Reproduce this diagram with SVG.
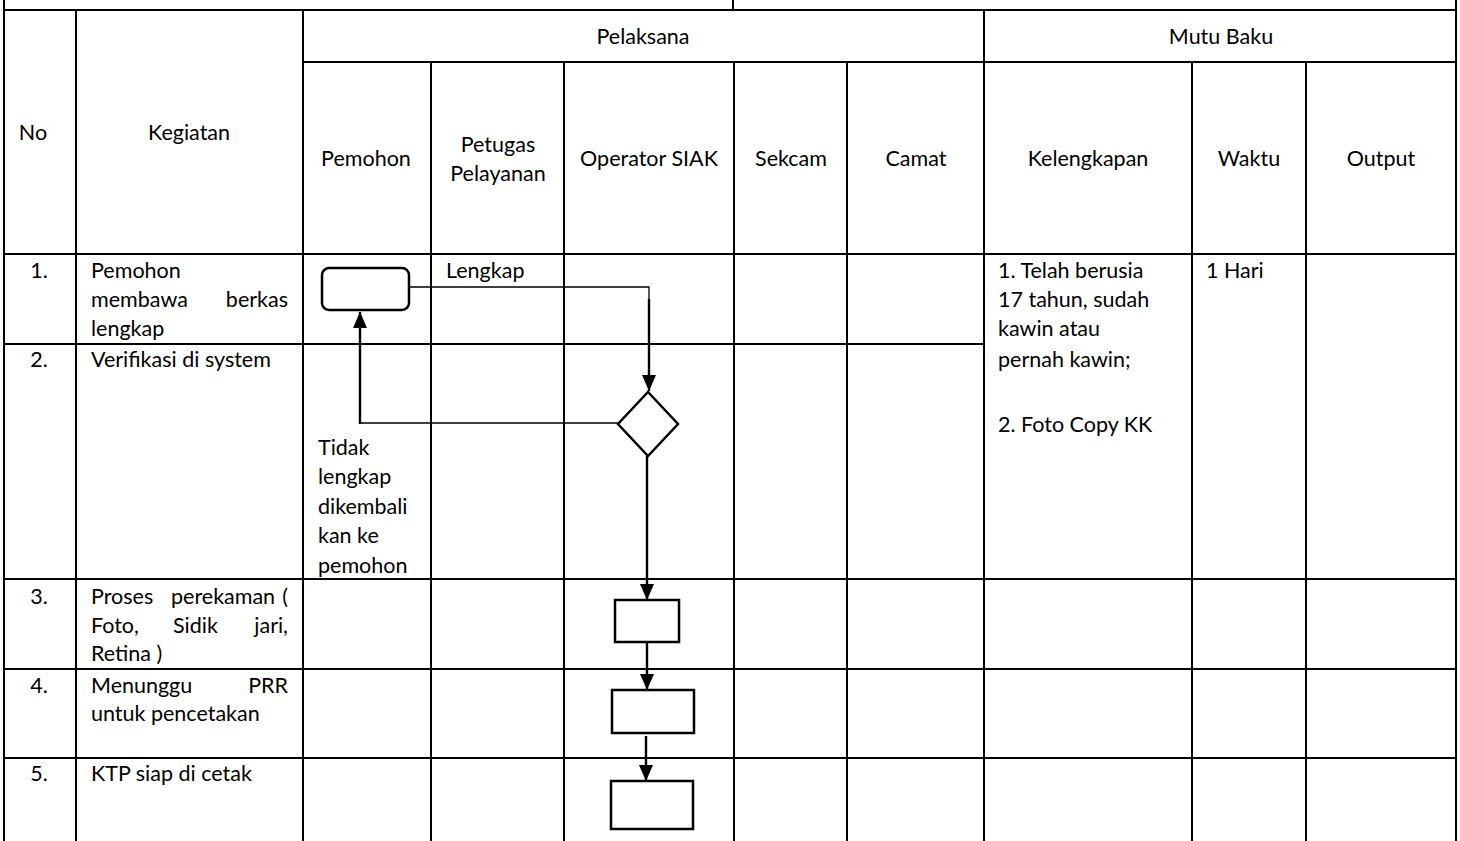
<svg xmlns="http://www.w3.org/2000/svg" width="1460" height="841" viewBox="0 0 1460 841">
<style>
.t{font-family:Lato,"Open Sans","Liberation Sans",sans-serif;font-size:21.5px;fill:#000}
.c{text-anchor:middle}
.e{text-anchor:end}
.g{stroke:#000;stroke-width:2;fill:none}
.s{stroke:#000;stroke-width:2.5;fill:#fff}
.thin{stroke:#000;stroke-width:1.3;fill:none}
.thick{stroke:#000;stroke-width:2.4;fill:none}
</style>
<defs>
<marker id="a" viewBox="0 0 16 14" refX="16" refY="7" markerWidth="16" markerHeight="14" markerUnits="userSpaceOnUse" orient="auto"><path d="M0,0L16,7L0,14z" fill="#000"/></marker>
</defs>
<rect width="1460" height="841" fill="#fff"/>
<g id="grid" class="g">
<line x1="4" y1="10" x2="1456" y2="10"/>
<line x1="4" y1="0" x2="4" y2="841"/>
<line x1="733" y1="0" x2="733" y2="10"/>
<line x1="1456" y1="0" x2="1456" y2="841"/>
<line x1="303" y1="62" x2="1456" y2="62"/>
<line x1="4" y1="254" x2="1456" y2="254"/>
<line x1="4" y1="344" x2="984" y2="344"/>
<line x1="4" y1="579" x2="1456" y2="579"/>
<line x1="4" y1="669" x2="1456" y2="669"/>
<line x1="4" y1="758" x2="1456" y2="758"/>
<line x1="76" y1="10" x2="76" y2="841"/>
<line x1="303" y1="10" x2="303" y2="841"/>
<line x1="984" y1="10" x2="984" y2="841"/>
<line x1="431" y1="62" x2="431" y2="841"/>
<line x1="564" y1="62" x2="564" y2="841"/>
<line x1="734" y1="62" x2="734" y2="841"/>
<line x1="847" y1="62" x2="847" y2="841"/>
<line x1="1192" y1="62" x2="1192" y2="841"/>
<line x1="1306" y1="62" x2="1306" y2="841"/>
</g>
<g id="headers" class="t">
<text x="33" y="140" class="c">No</text>
<text x="189" y="140" class="c">Kegiatan</text>
<text x="643" y="44" class="c">Pelaksana</text>
<text x="1221" y="44" class="c">Mutu Baku</text>
<text x="366" y="166" class="c">Pemohon</text>
<text x="498" y="152" class="c">Petugas</text>
<text x="498" y="181" class="c">Pelayanan</text>
<text x="649" y="166" class="c">Operator SIAK</text>
<text x="791" y="166" class="c">Sekcam</text>
<text x="916" y="166" class="c">Camat</text>
<text x="1088" y="166" class="c">Kelengkapan</text>
<text x="1249" y="166" class="c">Waktu</text>
<text x="1381" y="166" class="c">Output</text>
</g>
<g id="rows" class="t">
<text x="39" y="278" class="c">1.</text>
<text x="91" y="278">Pemohon</text>
<text x="91" y="307">membawa</text>
<text x="288" y="307" class="e">berkas</text>
<text x="91" y="336">lengkap</text>
<text x="39" y="367" class="c">2.</text>
<text x="91" y="367">Verifikasi di system</text>
<text x="39" y="604" class="c">3.</text>
<text x="91" y="604">Proses</text>
<text x="171" y="604">perekaman</text>
<text x="288" y="604" class="e">(</text>
<text x="91" y="633">Foto,</text>
<text x="173" y="633">Sidik</text>
<text x="288" y="633" class="e">jari,</text>
<text x="91" y="661">Retina )</text>
<text x="39" y="693" class="c">4.</text>
<text x="91" y="693">Menunggu</text>
<text x="288" y="693" class="e">PRR</text>
<text x="91" y="721">untuk pencetakan</text>
<text x="39" y="781" class="c">5.</text>
<text x="91" y="781">KTP siap di cetak</text>
<text x="998" y="278">1. Telah berusia</text>
<text x="998" y="307">17 tahun, sudah</text>
<text x="998" y="336">kawin atau</text>
<text x="998" y="367">pernah kawin;</text>
<text x="998" y="432">2. Foto Copy KK</text>
<text x="1206" y="278">1 Hari</text>
</g>
<g id="connectors">
<polyline class="thin" points="409,287 649,287 649,300"/>
<line class="thick" x1="649" y1="299" x2="649" y2="391" marker-end="url(#a)"/>
<polyline class="thin" points="618,423 360,423 360,410"/>
<line class="thick" x1="360" y1="424" x2="360" y2="312" marker-end="url(#a)"/>
<line class="thick" x1="647" y1="456" x2="647" y2="600" marker-end="url(#a)"/>
<line class="thick" x1="647" y1="642" x2="647" y2="690" marker-end="url(#a)"/>
<line class="thick" x1="646" y1="736" x2="646" y2="781" marker-end="url(#a)"/>
</g>
<g id="node-start"><rect class="s" x="322" y="268" width="87" height="42" rx="7"/></g>
<g id="node-decision"><polygon class="s" points="648,392 678,424 648,456 618,424"/></g>
<g id="node-rekam"><rect class="s" x="615" y="600" width="64" height="42"/></g>
<g id="node-prr"><rect class="s" x="612" y="690" width="82" height="43"/></g>
<g id="node-cetak"><rect class="s" x="611" y="781" width="82" height="48"/></g>
<g id="labels" class="t">
<text x="446" y="278">Lengkap</text>
<text x="318" y="455">Tidak</text>
<text x="318" y="484">lengkap</text>
<text x="318" y="514">dikembali</text>
<text x="318" y="543">kan ke</text>
<text x="318" y="573">pemohon</text>
</g>
</svg>
